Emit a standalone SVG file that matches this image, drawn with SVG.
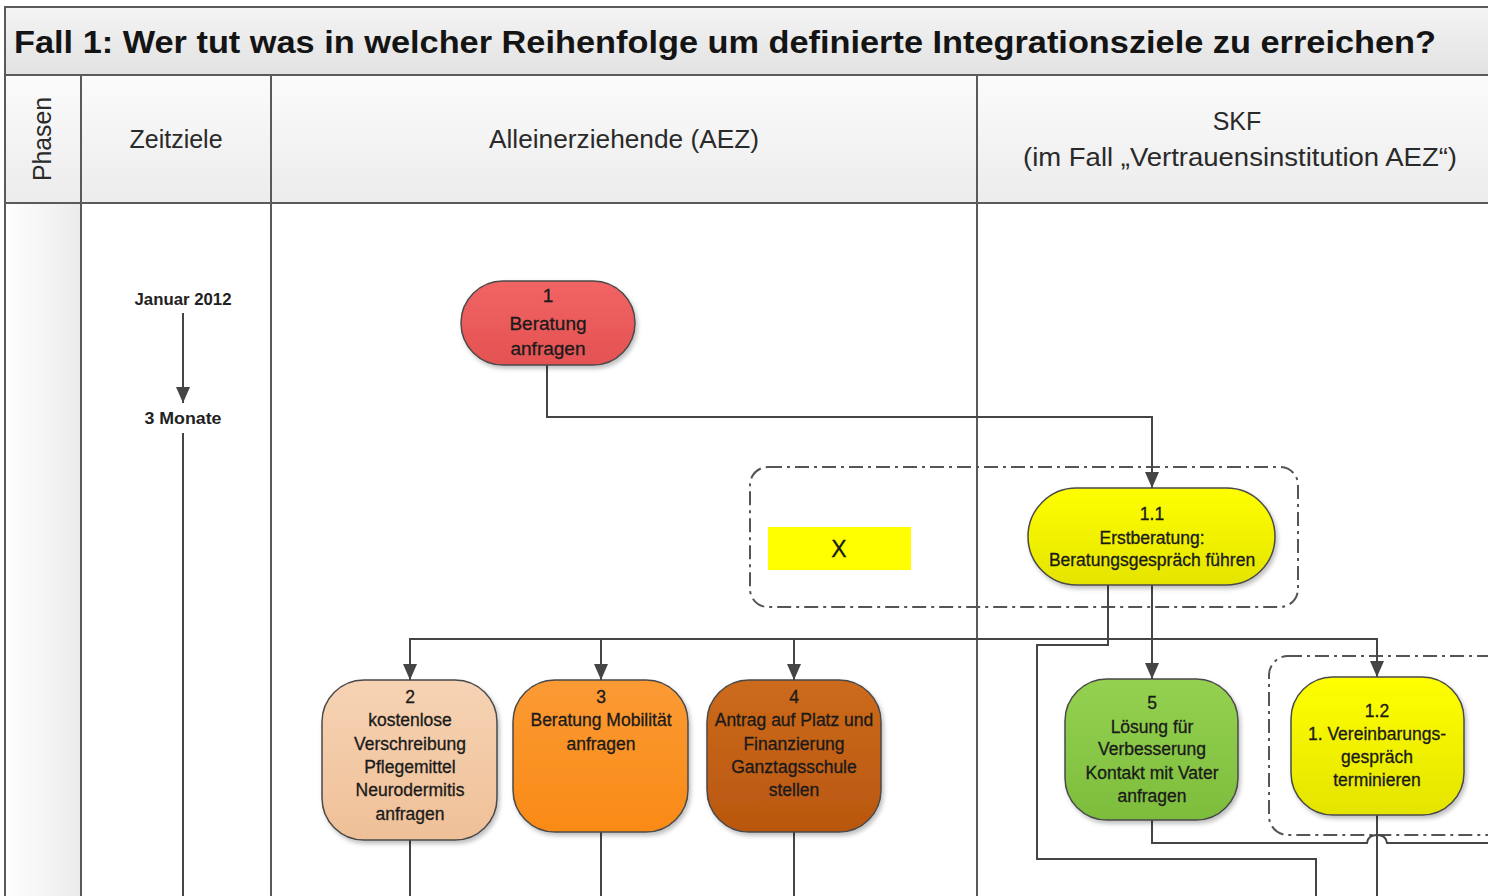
<svg xmlns="http://www.w3.org/2000/svg" width="1488" height="896" viewBox="0 0 1488 896">
  <defs>
    <style>
      .frame { fill: none; stroke: #5a5a5a; stroke-width: 2; }
      .hdr { font-family: "Liberation Sans", Arial, sans-serif; font-size: 25px; fill: #2a2a2a; text-anchor: middle; }
      .time { font-family: "Liberation Sans", Arial, sans-serif; font-size: 16.5px; font-weight: bold; fill: #222; text-anchor: middle; }
      .node { stroke: #4a4a4a; stroke-width: 1.5; filter: url(#shadow); }
      .lbl { font-family: "Liberation Sans", Arial, sans-serif; font-size: 17.5px; fill: #1a1a1a; stroke: #1a1a1a; stroke-width: 0.3; text-anchor: middle; }
      .big { font-size: 19px; }
      .conn { fill: none; stroke: #454545; stroke-width: 2; }
      .grp { fill: none; stroke: #555; stroke-width: 2; stroke-dasharray: 14 5 3 5; }
    </style>
    <linearGradient id="gTitle" x1="0" y1="0" x2="0" y2="1">
      <stop offset="0" stop-color="#f4f4f4"/>
      <stop offset="1" stop-color="#e2e2e2"/>
    </linearGradient>
    <linearGradient id="gHead" x1="0" y1="0" x2="0" y2="1">
      <stop offset="0" stop-color="#fbfbfb"/>
      <stop offset="1" stop-color="#ececec"/>
    </linearGradient>
    <linearGradient id="gPhase" x1="0" y1="0" x2="1" y2="0">
      <stop offset="0" stop-color="#ffffff"/>
      <stop offset="1" stop-color="#ebebeb"/>
    </linearGradient>
    <linearGradient id="gRed" x1="0" y1="0" x2="0" y2="1">
      <stop offset="0" stop-color="#f26464"/>
      <stop offset="1" stop-color="#e45252"/>
    </linearGradient>
    <linearGradient id="gYellow" x1="0" y1="0" x2="0" y2="1">
      <stop offset="0" stop-color="#ffff00"/>
      <stop offset="1" stop-color="#e4e400"/>
    </linearGradient>
    <linearGradient id="gPeach" x1="0" y1="0" x2="0" y2="1">
      <stop offset="0" stop-color="#f6d3b4"/>
      <stop offset="1" stop-color="#efc097"/>
    </linearGradient>
    <linearGradient id="gOrange" x1="0" y1="0" x2="0" y2="1">
      <stop offset="0" stop-color="#fb9a34"/>
      <stop offset="1" stop-color="#f98a16"/>
    </linearGradient>
    <linearGradient id="gBrown" x1="0" y1="0" x2="0" y2="1">
      <stop offset="0" stop-color="#cc6a1c"/>
      <stop offset="1" stop-color="#b9570f"/>
    </linearGradient>
    <linearGradient id="gGreen" x1="0" y1="0" x2="0" y2="1">
      <stop offset="0" stop-color="#95d151"/>
      <stop offset="1" stop-color="#7dbd3c"/>
    </linearGradient>
    <filter id="shadow" x="-10%" y="-10%" width="125%" height="130%">
      <feDropShadow dx="2" dy="3" stdDeviation="2" flood-color="#000" flood-opacity="0.25"/>
    </filter>
    <marker id="arrow" viewBox="0 0 16 14" refX="16" refY="7" markerWidth="16" markerHeight="14" markerUnits="userSpaceOnUse" orient="auto">
      <path d="M0,0 L16,7 L0,14 z" fill="#454545"/>
    </marker>
  </defs>

  <rect width="1488" height="896" fill="#ffffff"/>

  <!-- swimlane frame -->
  <g id="lanes">
    <rect x="5" y="7" width="1490" height="68" fill="url(#gTitle)"/>
    <rect x="5" y="75" width="1490" height="128" fill="url(#gHead)"/>
    <rect x="5" y="203" width="76" height="700" fill="url(#gPhase)"/>
    <path class="frame" d="M1490,7 H5 V900 M5,75 H1490 M5,203 H1490 M81,75 V900 M271,75 V900 M977,75 V900"/>
    <text x="14" y="53" font-family="Liberation Sans, Arial, sans-serif" font-size="31" font-weight="bold" fill="#141414" textLength="1422" lengthAdjust="spacingAndGlyphs">Fall 1: Wer tut was in welcher Reihenfolge um definierte Integrationsziele zu erreichen?</text>
    <text class="hdr" transform="translate(51,139) rotate(-90)" x="0" y="0" textLength="84" lengthAdjust="spacingAndGlyphs">Phasen</text>
    <text class="hdr" x="176" y="148">Zeitziele</text>
    <text class="hdr" x="624" y="148" textLength="270" lengthAdjust="spacingAndGlyphs">Alleinerziehende (AEZ)</text>
    <text class="hdr" x="1237" y="130">SKF</text>
    <text class="hdr" x="1240" y="166" textLength="434" lengthAdjust="spacingAndGlyphs">(im Fall „Vertrauensinstitution AEZ“)</text>
  </g>

  <!-- time line -->
  <g id="timeline">
    <text class="time" x="183" y="305" textLength="97" lengthAdjust="spacingAndGlyphs">Januar 2012</text>
    <text class="time" x="183" y="424" textLength="77" lengthAdjust="spacingAndGlyphs">3 Monate</text>
  </g>

  <!-- grouping frames -->
  <g id="group-1-1">
    <rect class="grp" x="750" y="467" width="548" height="140" rx="18"/>
  </g>
  <g id="group-1-2">
    <rect class="grp" x="1269" y="656" width="300" height="179" rx="19"/>
  </g>

  <!-- connectors -->
  <g id="connectors">
    <path class="conn" d="M183,313 V403" marker-end="url(#arrow)"/>
    <path class="conn" d="M183,433 V900"/>
    <path class="conn" d="M547,365 V417 H1152 V488" marker-end="url(#arrow)"/>
    <path class="conn" d="M1152,585 V679" marker-end="url(#arrow)"/>
    <path class="conn" d="M1152,639 H410 V680" marker-end="url(#arrow)"/>
    <path class="conn" d="M601,639 V680" marker-end="url(#arrow)"/>
    <path class="conn" d="M794,639 V680" marker-end="url(#arrow)"/>
    <path class="conn" d="M1152,639 H1377 V677" marker-end="url(#arrow)"/>
    <path class="conn" d="M1108,585 V645 H1037 V859 H1316 V900"/>
    <path class="conn" d="M1152,820 V843 H1367 q1,-8 10,-8 q9,0 10,8 H1490"/>
    <path class="conn" d="M1377,815 V900"/>
    <path class="conn" d="M410,840 V900"/>
    <path class="conn" d="M601,832 V900"/>
    <path class="conn" d="M794,832 V900"/>
  </g>

  <!-- process steps -->
  <g id="node-1">
    <rect class="node" x="461" y="281" width="174" height="84" rx="42" fill="url(#gRed)"/>
    <text class="lbl big" x="548" y="302">1</text>
    <text class="lbl big" x="548" y="330">Beratung</text>
    <text class="lbl big" x="548" y="355">anfragen</text>
  </g>

  <g id="node-x">
    <rect x="768" y="527" width="143" height="43" fill="#ffff00"/>
    <text class="lbl" style="font-size:23px" x="839" y="557">X</text>
  </g>

  <g id="node-1-1">
    <rect class="node" x="1028" y="488" width="247" height="97" rx="48.5" fill="url(#gYellow)"/>
    <text class="lbl" x="1152" y="520">1.1</text>
    <text class="lbl" x="1152" y="544">Erstberatung:</text>
    <text class="lbl" x="1152" y="566">Beratungsgespräch führen</text>
  </g>

  <g id="node-2">
    <rect class="node" x="322" y="680" width="175" height="160" rx="42" fill="url(#gPeach)"/>
    <text class="lbl" x="410" y="703">2</text>
    <text class="lbl" x="410" y="726">kostenlose</text>
    <text class="lbl" x="410" y="750">Verschreibung</text>
    <text class="lbl" x="410" y="773">Pflegemittel</text>
    <text class="lbl" x="410" y="796">Neurodermitis</text>
    <text class="lbl" x="410" y="820">anfragen</text>
  </g>

  <g id="node-3">
    <rect class="node" x="513" y="680" width="175" height="152" rx="42" fill="url(#gOrange)"/>
    <text class="lbl" x="601" y="703">3</text>
    <text class="lbl" x="601" y="726">Beratung Mobilität</text>
    <text class="lbl" x="601" y="750">anfragen</text>
  </g>

  <g id="node-4">
    <rect class="node" x="707" y="680" width="174" height="152" rx="42" fill="url(#gBrown)"/>
    <text class="lbl" x="794" y="703">4</text>
    <text class="lbl" x="794" y="726">Antrag auf Platz und</text>
    <text class="lbl" x="794" y="750">Finanzierung</text>
    <text class="lbl" x="794" y="773">Ganztagsschule</text>
    <text class="lbl" x="794" y="796">stellen</text>
  </g>

  <g id="node-5">
    <rect class="node" x="1065" y="679" width="173" height="141" rx="42" fill="url(#gGreen)"/>
    <text class="lbl" x="1152" y="709">5</text>
    <text class="lbl" x="1152" y="733">Lösung für</text>
    <text class="lbl" x="1152" y="755">Verbesserung</text>
    <text class="lbl" x="1152" y="779">Kontakt mit Vater</text>
    <text class="lbl" x="1152" y="802">anfragen</text>
  </g>

  <g id="node-1-2">
    <rect class="node" x="1291" y="677" width="173" height="138" rx="42" fill="url(#gYellow)"/>
    <text class="lbl" x="1377" y="717">1.2</text>
    <text class="lbl" x="1377" y="740">1. Vereinbarungs-</text>
    <text class="lbl" x="1377" y="763">gespräch</text>
    <text class="lbl" x="1377" y="786">terminieren</text>
  </g>
</svg>
